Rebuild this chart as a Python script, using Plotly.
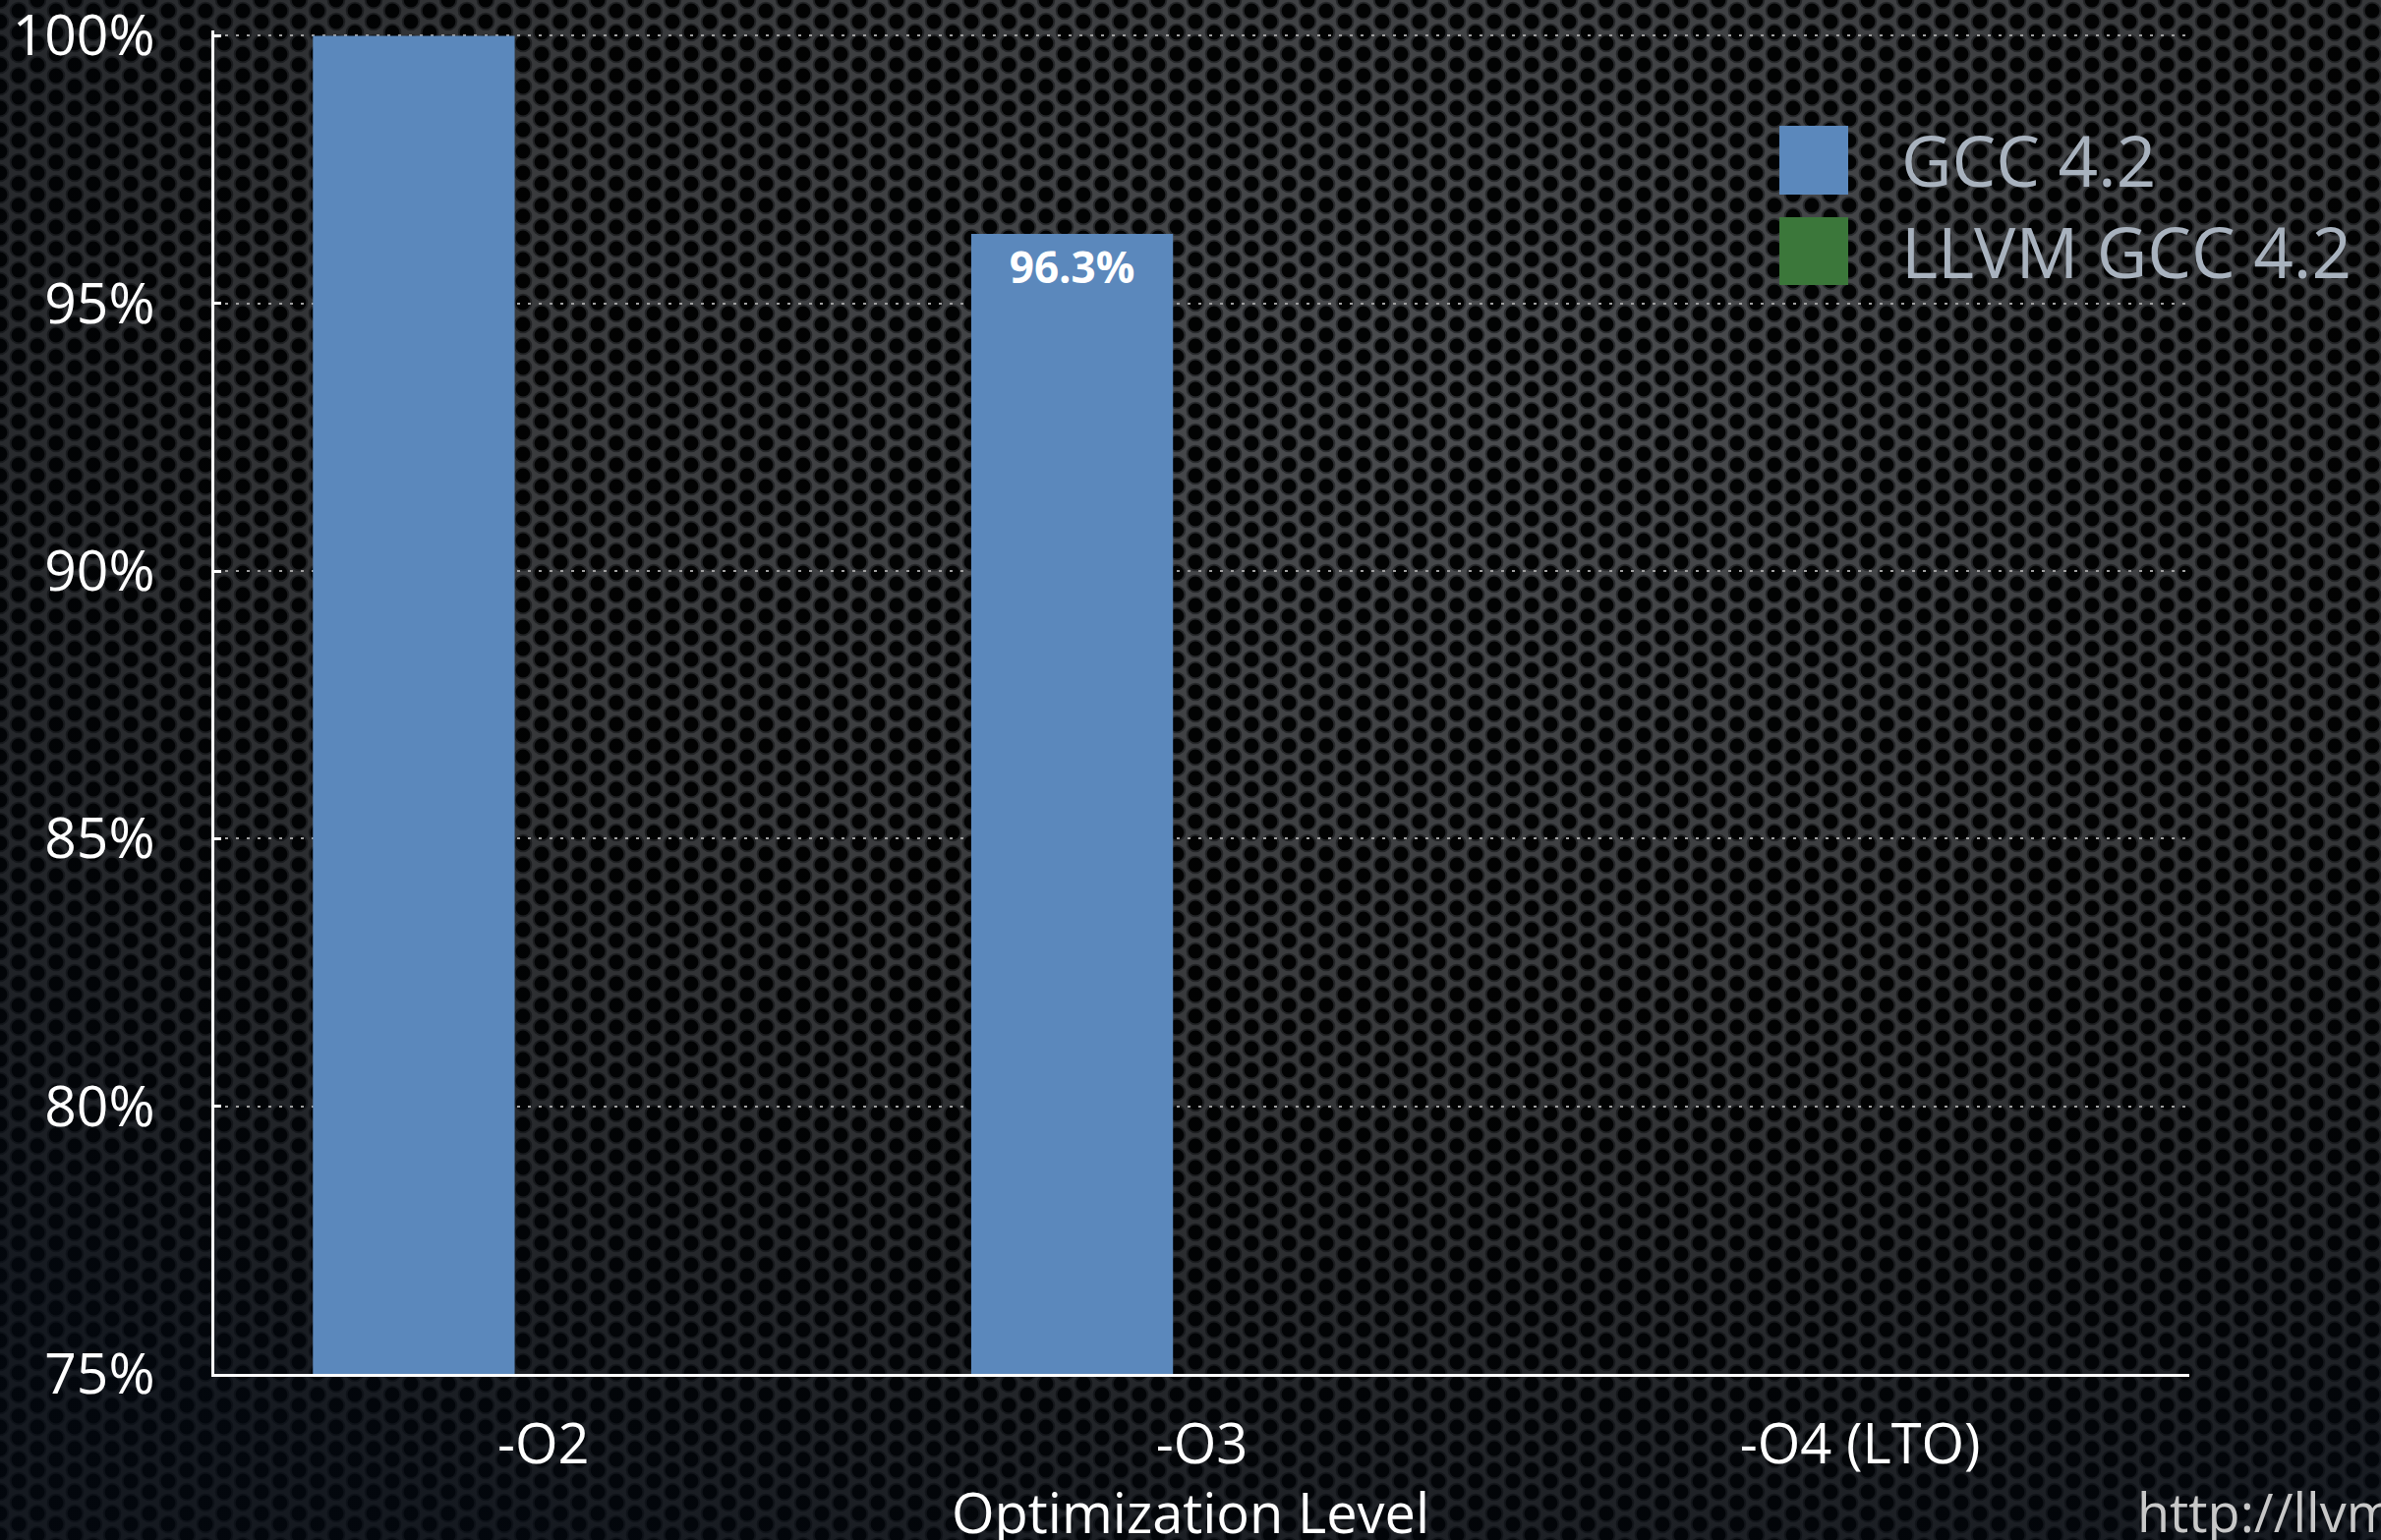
import base64
import plotly.graph_objects as go

# ---- data ----
categories = ["-O2", "-O3", "-O4 (LTO)"]
gcc_values = [100.0, 96.3, None]
llvm_values = [None, None, None]
series_names = ["GCC 4.2", "LLVM GCC 4.2"]
bar_labels = ["", "96.3%", ""]
y_ticks = [75, 80, 85, 90, 95, 100]
y_tick_text = ["75%", "80%", "85%", "90%", "95%", "100%"]
x_title = "Optimization Level"
footer = "http://llvm.org/"

W, H = 2422, 1567
Y_MIN, Y_MAX = 75, 100.1
L, R, T, B = 218, 195, 31, 169
pw, ph = W - L - R, H - T - B
y_px = H - B  # pixel row of the x axis


def py(pix):
    """pixel row -> paper y"""
    return (y_px - pix) / ph


def px(pix):
    """pixel column -> paper x"""
    return (pix - L) / pw


FONT = "Open Sans"
BLUE = "#5b88bc"
GREEN = "#3b773a"

# ---- perforated-metal background (decorative) ----
tw, th = 38, 22
holes = [(0, 0), (tw, 0), (0, th), (tw, th), (tw / 2, th / 2)]
ring = "".join(f'<circle cx="{x}" cy="{y}" r="9.3" />' for x, y in holes)
hole = "".join(f'<circle cx="{x}" cy="{y}" r="7.4" />' for x, y in holes)
svg = f'''<svg xmlns="http://www.w3.org/2000/svg" width="{W}" height="{H}" viewBox="0 0 {W} {H}" preserveAspectRatio="none">
<defs>
<pattern id="p" width="{tw}" height="{th}" patternUnits="userSpaceOnUse">
<rect width="{tw}" height="{th}" fill="#4b4d50"/>
<g fill="#2c2e31">{ring}</g>
<g fill="#020303">{hole}</g>
</pattern>
<radialGradient id="g" cx="62%" cy="25%" r="85%">
<stop offset="0" stop-color="#000" stop-opacity="0.0"/>
<stop offset="0.5" stop-color="#000" stop-opacity="0.25"/>
<stop offset="1" stop-color="#030810" stop-opacity="0.75"/>
</radialGradient>
</defs>
<rect width="{W}" height="{H}" fill="url(#p)"/>
<rect width="{W}" height="{H}" fill="url(#g)"/>
</svg>'''
bg_src = "data:image/svg+xml;base64," + base64.b64encode(svg.encode()).decode()

fig = go.Figure()
fig.add_trace(go.Bar(
    x=categories, y=gcc_values, name=series_names[0],
    marker=dict(color=BLUE, line=dict(width=0)),
    text=bar_labels, textposition="inside", insidetextanchor="end",
    textfont=dict(family=FONT, size=44, color="white", weight="bold"),
    showlegend=False, hoverinfo="skip",
))
fig.add_trace(go.Bar(
    x=categories, y=llvm_values, name=series_names[1],
    marker=dict(color=GREEN, line=dict(width=0)),
    showlegend=False, hoverinfo="skip",
))

# legend drawn as swatches + text
legend_rows = [(128, 198, BLUE, series_names[0]),
               (221, 290, GREEN, series_names[1])]
for top, bot, col, name in legend_rows:
    fig.add_shape(type="rect", xref="paper", yref="paper",
                  x0=px(1810), x1=px(1880), y0=py(bot), y1=py(top),
                  fillcolor=col, line=dict(width=0))
    fig.add_annotation(xref="paper", yref="paper", x=px(1932), y=py((top + bot) / 2),
                       xanchor="left", yanchor="middle", text=name, showarrow=False,
                       font=dict(family=FONT, size=71, color="#a8b2be"))

fig.add_annotation(xref="paper", yref="paper", x=px(1211), y=py(1538),
                   xanchor="center", yanchor="middle", text=x_title, showarrow=False,
                   font=dict(family=FONT, size=56, color="white"))
fig.add_annotation(xref="paper", yref="paper", x=px(2172), y=py(1538),
                   xanchor="left", yanchor="middle", text=footer, showarrow=False,
                   font=dict(family=FONT, size=54, color="#c8c8c8"))

fig.update_layout(
    width=W, height=H,
    margin=dict(l=L, r=R, t=T, b=B, autoexpand=False),
    paper_bgcolor="#26282b", plot_bgcolor="rgba(0,0,0,0)",
    barmode="group", bargap=0.212, bargroupgap=0.222,
    images=[dict(source=bg_src, xref="paper", yref="paper",
                 x=-L / pw, y=1 + T / ph, sizex=W / pw, sizey=H / ph,
                 xanchor="left", yanchor="top", sizing="stretch", layer="below")],
    font=dict(family=FONT, color="white"),
)
fig.update_xaxes(
    showline=True, linecolor="white", linewidth=3, ticks="",
    showgrid=False, tickfont=dict(family=FONT, size=56, color="white"),
    ticklabelstandoff=21, automargin=False,
)
fig.update_yaxes(
    range=[Y_MIN, Y_MAX], tickmode="array", tickvals=y_ticks, ticktext=y_tick_text,
    showline=True, linecolor="white", linewidth=3,
    ticks="inside", ticklen=7, tickwidth=3, tickcolor="white",
    showgrid=True, gridcolor="#a0a0a0", gridwidth=2, griddash="3px,8px",
    zeroline=False, tickfont=dict(family=FONT, size=57, color="white"),
    ticklabelstandoff=46, ticklabeloverflow="allow", automargin=False,
)

fig.write_html("out.html", config={"displayModeBar": False},
               post_script="document.body.style.margin='0';")
